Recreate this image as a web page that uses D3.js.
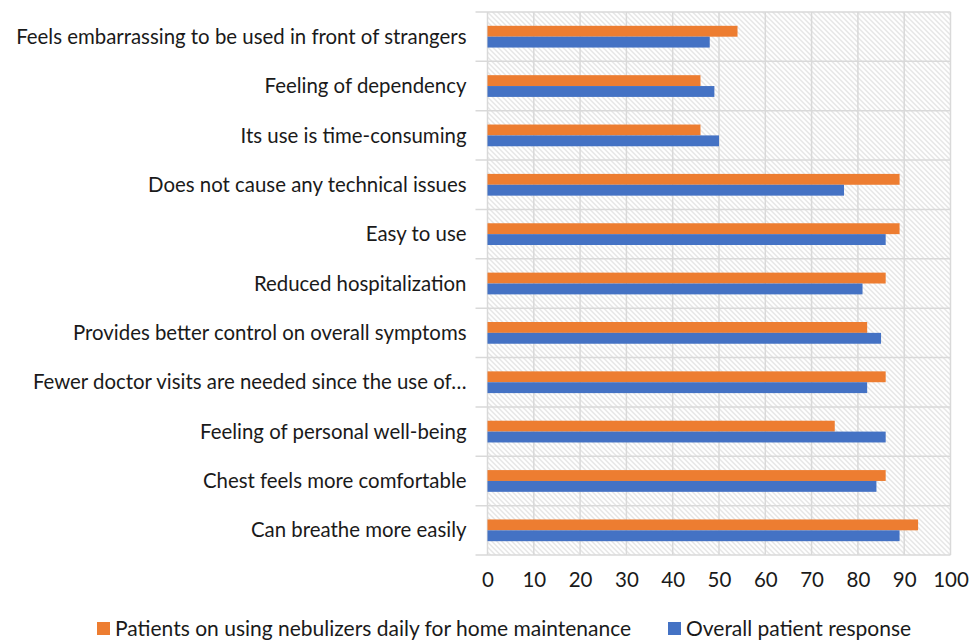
<!DOCTYPE html>
<html>
<head>
<meta charset="utf-8">
<script src="https://cdn.jsdelivr.net/npm/d3@7"></script>
<style>
  body { margin: 0; background: #fff; }
  #chart { width: 969px; height: 643px; }
</style>
</head>
<body>
<div id="chart"></div>
<script>
// categories from top to bottom
var categories = [
    "Feels embarrassing to be used in front of strangers",
    "Feeling of dependency",
    "Its use is time-consuming",
    "Does not cause any technical issues",
    "Easy to use",
    "Reduced hospitalization",
    "Provides better control on overall symptoms",
    "Fewer doctor visits are needed since the use of\u2026",
    "Feeling of personal well-being",
    "Chest feels more comfortable",
    "Can breathe more easily"
];
var seriesNames = ["Patients on using nebulizers daily for home maintenance", "Overall patient response"];
var dailyUsers = [54, 46, 46, 89, 89, 86, 82, 86, 75, 86, 93];
var overall    = [48, 49, 50, 77, 86, 81, 85, 82, 86, 84, 89];
var xTicks = [0, 10, 20, 30, 40, 50, 60, 70, 80, 90, 100];

var colors = ["#ED7D31", "#4472C4"];
var font = "Lato, 'Open Sans', sans-serif";

var width = 969, height = 643,
    marginLeft = 487.5, marginRight = 18.5,
    marginTop = 12, marginBottom = 88,
    chartWidth = width - marginLeft - marginRight,
    chartHeight = height - marginTop - marginBottom;

var svg = d3.select("#chart").append("svg")
    .attr("width", width)
    .attr("height", height);

// hatched background
var defs = svg.append("defs");
var pat = defs.append("pattern")
    .attr("id", "hatch")
    .attr("patternUnits", "userSpaceOnUse")
    .attr("width", 5)
    .attr("height", 5);
pat.append("rect").attr("width", 5).attr("height", 5).attr("fill", "#fff");
pat.append("path")
    .attr("d", "M-1,-1 L6,6 M-1,4 L1,6 M4,-1 L6,1")
    .attr("stroke", "#dcdcdc")
    .attr("stroke-width", 1.1);

var g = svg.append("g")
    .attr("transform", "translate(" + marginLeft + "," + marginTop + ")");

var x = d3.scaleLinear().domain([0, 100]).range([0, chartWidth]);
var y = d3.scaleBand().domain(categories).range([0, chartHeight]);
var inner = d3.scaleBand().domain([0, 1]).range([0, y.bandwidth()]).paddingInner(0).paddingOuter(1.27);

g.append("rect")
    .attr("width", chartWidth)
    .attr("height", chartHeight)
    .attr("fill", "url(#hatch)");

// vertical grid
g.append("g").selectAll("line").data(xTicks).enter()
    .append("line")
    .attr("x1", function(d){ return x(d); })
    .attr("x2", function(d){ return x(d); })
    .attr("y1", 0)
    .attr("y2", chartHeight)
    .style("stroke", "#d9d9d9")
    .style("stroke-width", 1.5);

// horizontal lines at category boundaries
var bounds = categories.map(function(c){ return y(c); }).concat([chartHeight]);
g.append("g").selectAll("line").data(bounds).enter()
    .append("line")
    .attr("x1", -12)
    .attr("x2", chartWidth)
    .attr("y1", function(d){ return d; })
    .attr("y2", function(d){ return d; })
    .style("stroke", "#d9d9d9")
    .style("stroke-width", 1.5);

// bars
var series = [dailyUsers, overall];
series.forEach(function(vals, s){
    g.append("g").selectAll("rect").data(categories).enter()
        .append("rect")
        .attr("x", x(0))
        .attr("y", function(d){ return y(d) + inner(s); })
        .attr("width", function(d, i){ return x(vals[i]) - x(0); })
        .attr("height", inner.bandwidth())
        .style("fill", colors[s]);
});

// category labels
g.append("g").selectAll("text").data(categories).enter()
    .append("text")
    .attr("x", -21)
    .attr("y", function(d){ return y(d) + y.bandwidth() / 2; })
    .attr("dy", "0.35em")
    .attr("text-anchor", "end")
    .style("font-family", font)
    .style("font-size", "20.4px")
    .style("fill", "#1a1a1a")
    .text(function(d){ return d; });

// x axis labels
var xAxis = g.append("g")
    .attr("transform", "translate(0," + chartHeight + ")")
    .call(d3.axisBottom(x).tickValues(xTicks).tickSize(0).tickPadding(17));
xAxis.select(".domain").remove();
xAxis.selectAll("text")
    .style("font-family", font)
    .style("font-size", "20.5px")
    .style("fill", "#1a1a1a");

// legend
var legendItems = [{x: 97, i: 0}, {x: 668, i: 1}];
var legend = svg.append("g");
legendItems.forEach(function(it){
    legend.append("rect")
        .attr("x", it.x)
        .attr("y", 622)
        .attr("width", 13)
        .attr("height", 13)
        .style("fill", colors[it.i]);
    legend.append("text")
        .attr("x", it.x + 18)
        .attr("y", 628.5)
        .attr("dy", "0.35em")
        .style("font-family", font)
        .style("font-size", "21px")
        .style("fill", "#1a1a1a")
        .text(seriesNames[it.i]);
});
</script>
</body>
</html>
